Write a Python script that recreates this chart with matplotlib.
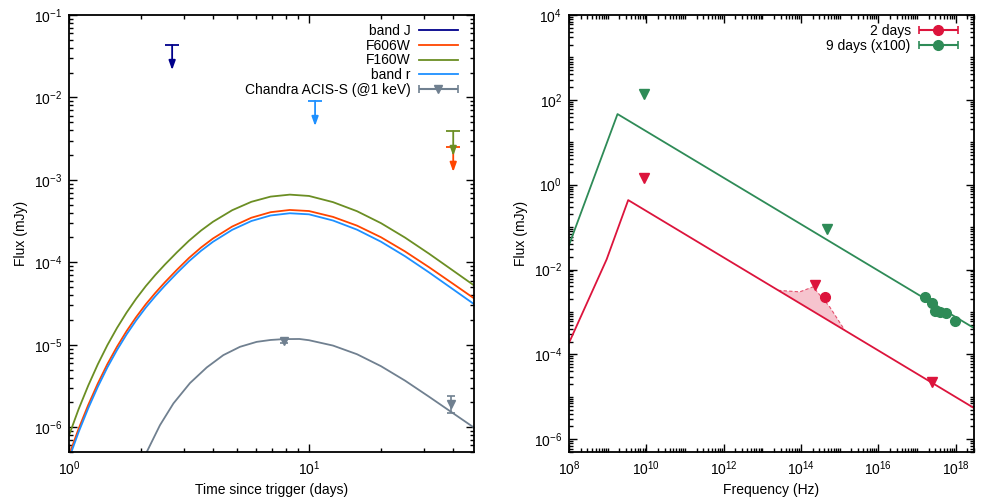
import numpy as np
import matplotlib
matplotlib.use("Agg")
import matplotlib.pyplot as plt
from matplotlib.ticker import LogLocator, NullFormatter
from matplotlib.container import ErrorbarContainer
from matplotlib.legend_handler import HandlerErrorbar

plt.rcParams['font.family'] = ['Liberation Sans', 'DejaVu Sans']
plt.rcParams['font.size'] = 10

# ── Left panel data: model light curves (log10 flux in mJy) ─────────
t_model = [1.0, 1.096, 1.202, 1.318, 1.445, 1.585, 1.738, 1.905, 2.089, 2.291, 2.512,
           2.818, 3.162, 3.548, 3.981, 4.786, 5.754, 6.918, 8.318, 10.0, 12.59, 15.85,
           19.95, 25.12, 31.62, 39.81, 48.98]
logF_F160W = [-6.10, -5.783, -5.497, -5.238, -5.005, -4.796, -4.609, -4.441, -4.289, -4.152,
              -4.026, -3.878, -3.738, -3.615, -3.508, -3.368, -3.266, -3.203, -3.179, -3.195,
              -3.27, -3.38, -3.525, -3.70, -3.895, -4.10, -4.285]
logF_F606W = [-6.34, -6.021, -5.732, -5.471, -5.235, -5.024, -4.834, -4.664, -4.509, -4.370,
              -4.241, -4.090, -3.947, -3.821, -3.711, -3.566, -3.459, -3.392, -3.365, -3.378,
              -3.449, -3.555, -3.696, -3.868, -4.059, -4.26, -4.442]
logF_bandr = [-6.38, -6.061, -5.772, -5.511, -5.275, -5.064, -4.874, -4.704, -4.549, -4.410,
              -4.281, -4.130, -3.987, -3.861, -3.751, -3.606, -3.499, -3.432, -3.405, -3.418,
              -3.493, -3.604, -3.750, -3.926, -4.122, -4.327, -4.512]

t_xray = [1.995, 2.109, 2.393, 2.723, 3.192, 3.750, 4.395, 5.158, 6.053, 6.918, 7.816,
          9.120, 10.0, 12.59, 15.85, 19.95, 25.12, 31.62, 39.81, 48.98]
logF_xray = [-6.46, -6.30, -5.976, -5.712, -5.465, -5.275, -5.126, -5.025, -4.965, -4.942,
             -4.932, -4.930, -4.945, -5.010, -5.115, -5.26, -5.435, -5.63, -5.83, -6.01]

# Chandra detections
t_chandra = [7.87, 39.1]
f_chandra = [1.11e-5, 1.90e-6]
f_chandra_lo = [1.06e-5, 1.47e-6]
f_chandra_hi = [1.16e-5, 2.40e-6]

# optical / NIR upper limits: (time, cap, arrow tip)
ul_bands = ["band J", "band r", "F606W", "F160W"]
ul_t = [2.69, 10.6, 39.9, 39.9]
ul_top = [4.3e-2, 9.1e-3, 2.5e-3, 3.9e-3]
ul_tip = [2.15e-2, 4.5e-3, 1.25e-3, 1.95e-3]

colors_left = {"band J": "#00008b", "F606W": "#ff4500", "F160W": "#6b8e23",
               "band r": "#1e90ff", "Chandra": "#708090"}

# ── Right panel data: broadband SEDs ───────────────────────────────
nu_model_2d = [1e8, 9.4e8, 3.4e9, 3e18]
logF_model_2d = [-3.729, -1.762, -0.363, -5.265]
nu_model_9d = [1e8, 1.8e9, 3e18]
logF_model_9d = [-1.425, 1.665, -3.38]

nu_ul_2d = [8.7e9, 2.3e14, 2.4e17]
logF_ul_2d = [0.149, -2.368, -4.649]
nu_det_2d = [4.3e14]
logF_det_2d = [-2.644]

nu_ul_9d = [8.7e9, 4.6e14]
logF_ul_9d = [2.137, -1.047]
nu_det_9d = [1.58e17, 2.44e17, 2.99e17, 4.03e17, 5.75e17, 9.42e17]
logF_det_9d = [-2.658, -2.785, -2.974, -2.998, -3.021, -3.210]

# shaded optical excess at 2 days
nu_band = [2.56e13, 9.31e13, 2.06e14, 5.55e14, 1.36e15]
logF_band = [-2.49, -2.526, -2.408, -2.880, -3.43]

red = "#dc143c"
green = "#2e8b57"


def style_axes(ax):
    ax.tick_params(which='both', direction='in', top=True, right=True, width=1.0,
                   labelsize=10)
    ax.tick_params(which='major', length=6, pad=5)
    ax.tick_params(which='minor', length=3)
    for s in ax.spines.values():
        s.set_linewidth(1.3)


fig = plt.figure(figsize=(10, 5), dpi=100)
ax1 = fig.add_axes([0.069, 0.096, 0.405, 0.874])
ax2 = fig.add_axes([0.569, 0.096, 0.405, 0.874])

# ── Left panel ─────────────────────────────────────────────────────
ax1.plot([], [], color=colors_left["band J"], lw=1.3, label="band J")
ax1.plot(t_model, 10 ** np.array(logF_F606W), color=colors_left["F606W"], lw=1.3, label="F606W")
ax1.plot(t_model, 10 ** np.array(logF_F160W), color=colors_left["F160W"], lw=1.3, label="F160W")
ax1.plot(t_model, 10 ** np.array(logF_bandr), color=colors_left["band r"], lw=1.3, label="band r")
ax1.plot(t_xray, 10 ** np.array(logF_xray), color=colors_left["Chandra"], lw=1.3)

for band, t, top, tip in zip(ul_bands, ul_t, ul_top, ul_tip):
    c = colors_left[band]
    ax1.plot([t], [top], marker='_', ms=10, mew=1.3, color=c)
    ax1.annotate('', xy=(t, tip), xytext=(t, top),
                 arrowprops=dict(arrowstyle='-|>,head_length=0.5,head_width=0.18',
                                 color=c, lw=1.3, mutation_scale=11,
                                 shrinkA=0, shrinkB=0))

yerr = [np.array(f_chandra) - np.array(f_chandra_lo),
        np.array(f_chandra_hi) - np.array(f_chandra)]
ax1.errorbar(t_chandra, f_chandra, yerr=yerr, fmt='v', color=colors_left["Chandra"],
             ms=6, capsize=3, elinewidth=1.2, capthick=1.2)
ax1.errorbar([np.nan], [np.nan], xerr=[1.0], fmt='v', color=colors_left["Chandra"],
             ms=6, capsize=3, elinewidth=1.5, capthick=1.2,
             label="Chandra ACIS-S (@1 keV)")

ax1.set_xscale('log')
ax1.set_yscale('log')
ax1.set_xlim(1, 48.7)
ax1.set_ylim(5e-7, 1e-1)
ax1.xaxis.set_minor_locator(LogLocator(base=10, subs=np.arange(2, 10), numticks=100))
ax1.yaxis.set_minor_locator(LogLocator(base=10, subs=np.arange(2, 10), numticks=100))
ax1.xaxis.set_minor_formatter(NullFormatter())
ax1.yaxis.set_minor_formatter(NullFormatter())
ax1.set_xlabel("Time since trigger (days)", fontsize=10)
ax1.set_ylabel("Flux (mJy)", fontsize=10)
style_axes(ax1)

hmap = {ErrorbarContainer: HandlerErrorbar(xerr_size=1.4)}
legend_kw = dict(loc='upper right', bbox_to_anchor=(0.9877, 1.0046), frameon=False,
                 markerfirst=False, numpoints=1, handlelength=2.8, labelspacing=0.05,
                 handletextpad=0.6, borderaxespad=0.4, fontsize=10, handler_map=hmap)
ax1.legend(**legend_kw)

# ── Right panel ────────────────────────────────────────────────────
ax2.fill(nu_band, 10 ** np.array(logF_band), color="#f6c4ce", lw=0)
ax2.plot(nu_band, 10 ** np.array(logF_band), ls=(0, (3, 2)), color=red, lw=0.8, alpha=0.7)
ax2.plot(nu_model_2d, 10 ** np.array(logF_model_2d), color=red, lw=1.3)
ax2.plot(nu_model_9d, 10 ** np.array(logF_model_9d), color=green, lw=1.3)

ax2.plot(nu_ul_2d, 10 ** np.array(logF_ul_2d), 'v', color=red, ms=7, ls='none')
ax2.plot(nu_det_2d, 10 ** np.array(logF_det_2d), 'o', color=red, ms=7, ls='none')
ax2.plot(nu_ul_9d, 10 ** np.array(logF_ul_9d), 'v', color=green, ms=7, ls='none')
ax2.plot(nu_det_9d, 10 ** np.array(logF_det_9d), 'o', color=green, ms=7, ls='none')

ax2.errorbar([np.nan], [np.nan], xerr=[1.0], fmt='o', color=red, ms=7, capsize=3,
             elinewidth=1.5, capthick=1.2, label="2 days")
ax2.errorbar([np.nan], [np.nan], xerr=[1.0], fmt='o', color=green, ms=7, capsize=3,
             elinewidth=1.5, capthick=1.2, label="9 days (x100)")

ax2.set_xscale('log')
ax2.set_yscale('log')
ax2.set_xlim(1e8, 3e18)
ax2.set_ylim(5e-7, 1e4)
ax2.set_xticks([1e8, 1e10, 1e12, 1e14, 1e16, 1e18])
ax2.set_yticks([1e-6, 1e-4, 1e-2, 1e0, 1e2, 1e4])
ax2.xaxis.set_minor_locator(LogLocator(base=10, subs=np.arange(1, 10), numticks=200))
ax2.yaxis.set_minor_locator(LogLocator(base=10, subs=np.arange(1, 10), numticks=200))
ax2.xaxis.set_minor_formatter(NullFormatter())
ax2.yaxis.set_minor_formatter(NullFormatter())
ax2.set_xlabel("Frequency (Hz)", fontsize=10)
ax2.set_ylabel("Flux (mJy)", fontsize=10)
style_axes(ax2)

ax2.legend(**legend_kw)

fig.savefig("out.png", dpi=100)
